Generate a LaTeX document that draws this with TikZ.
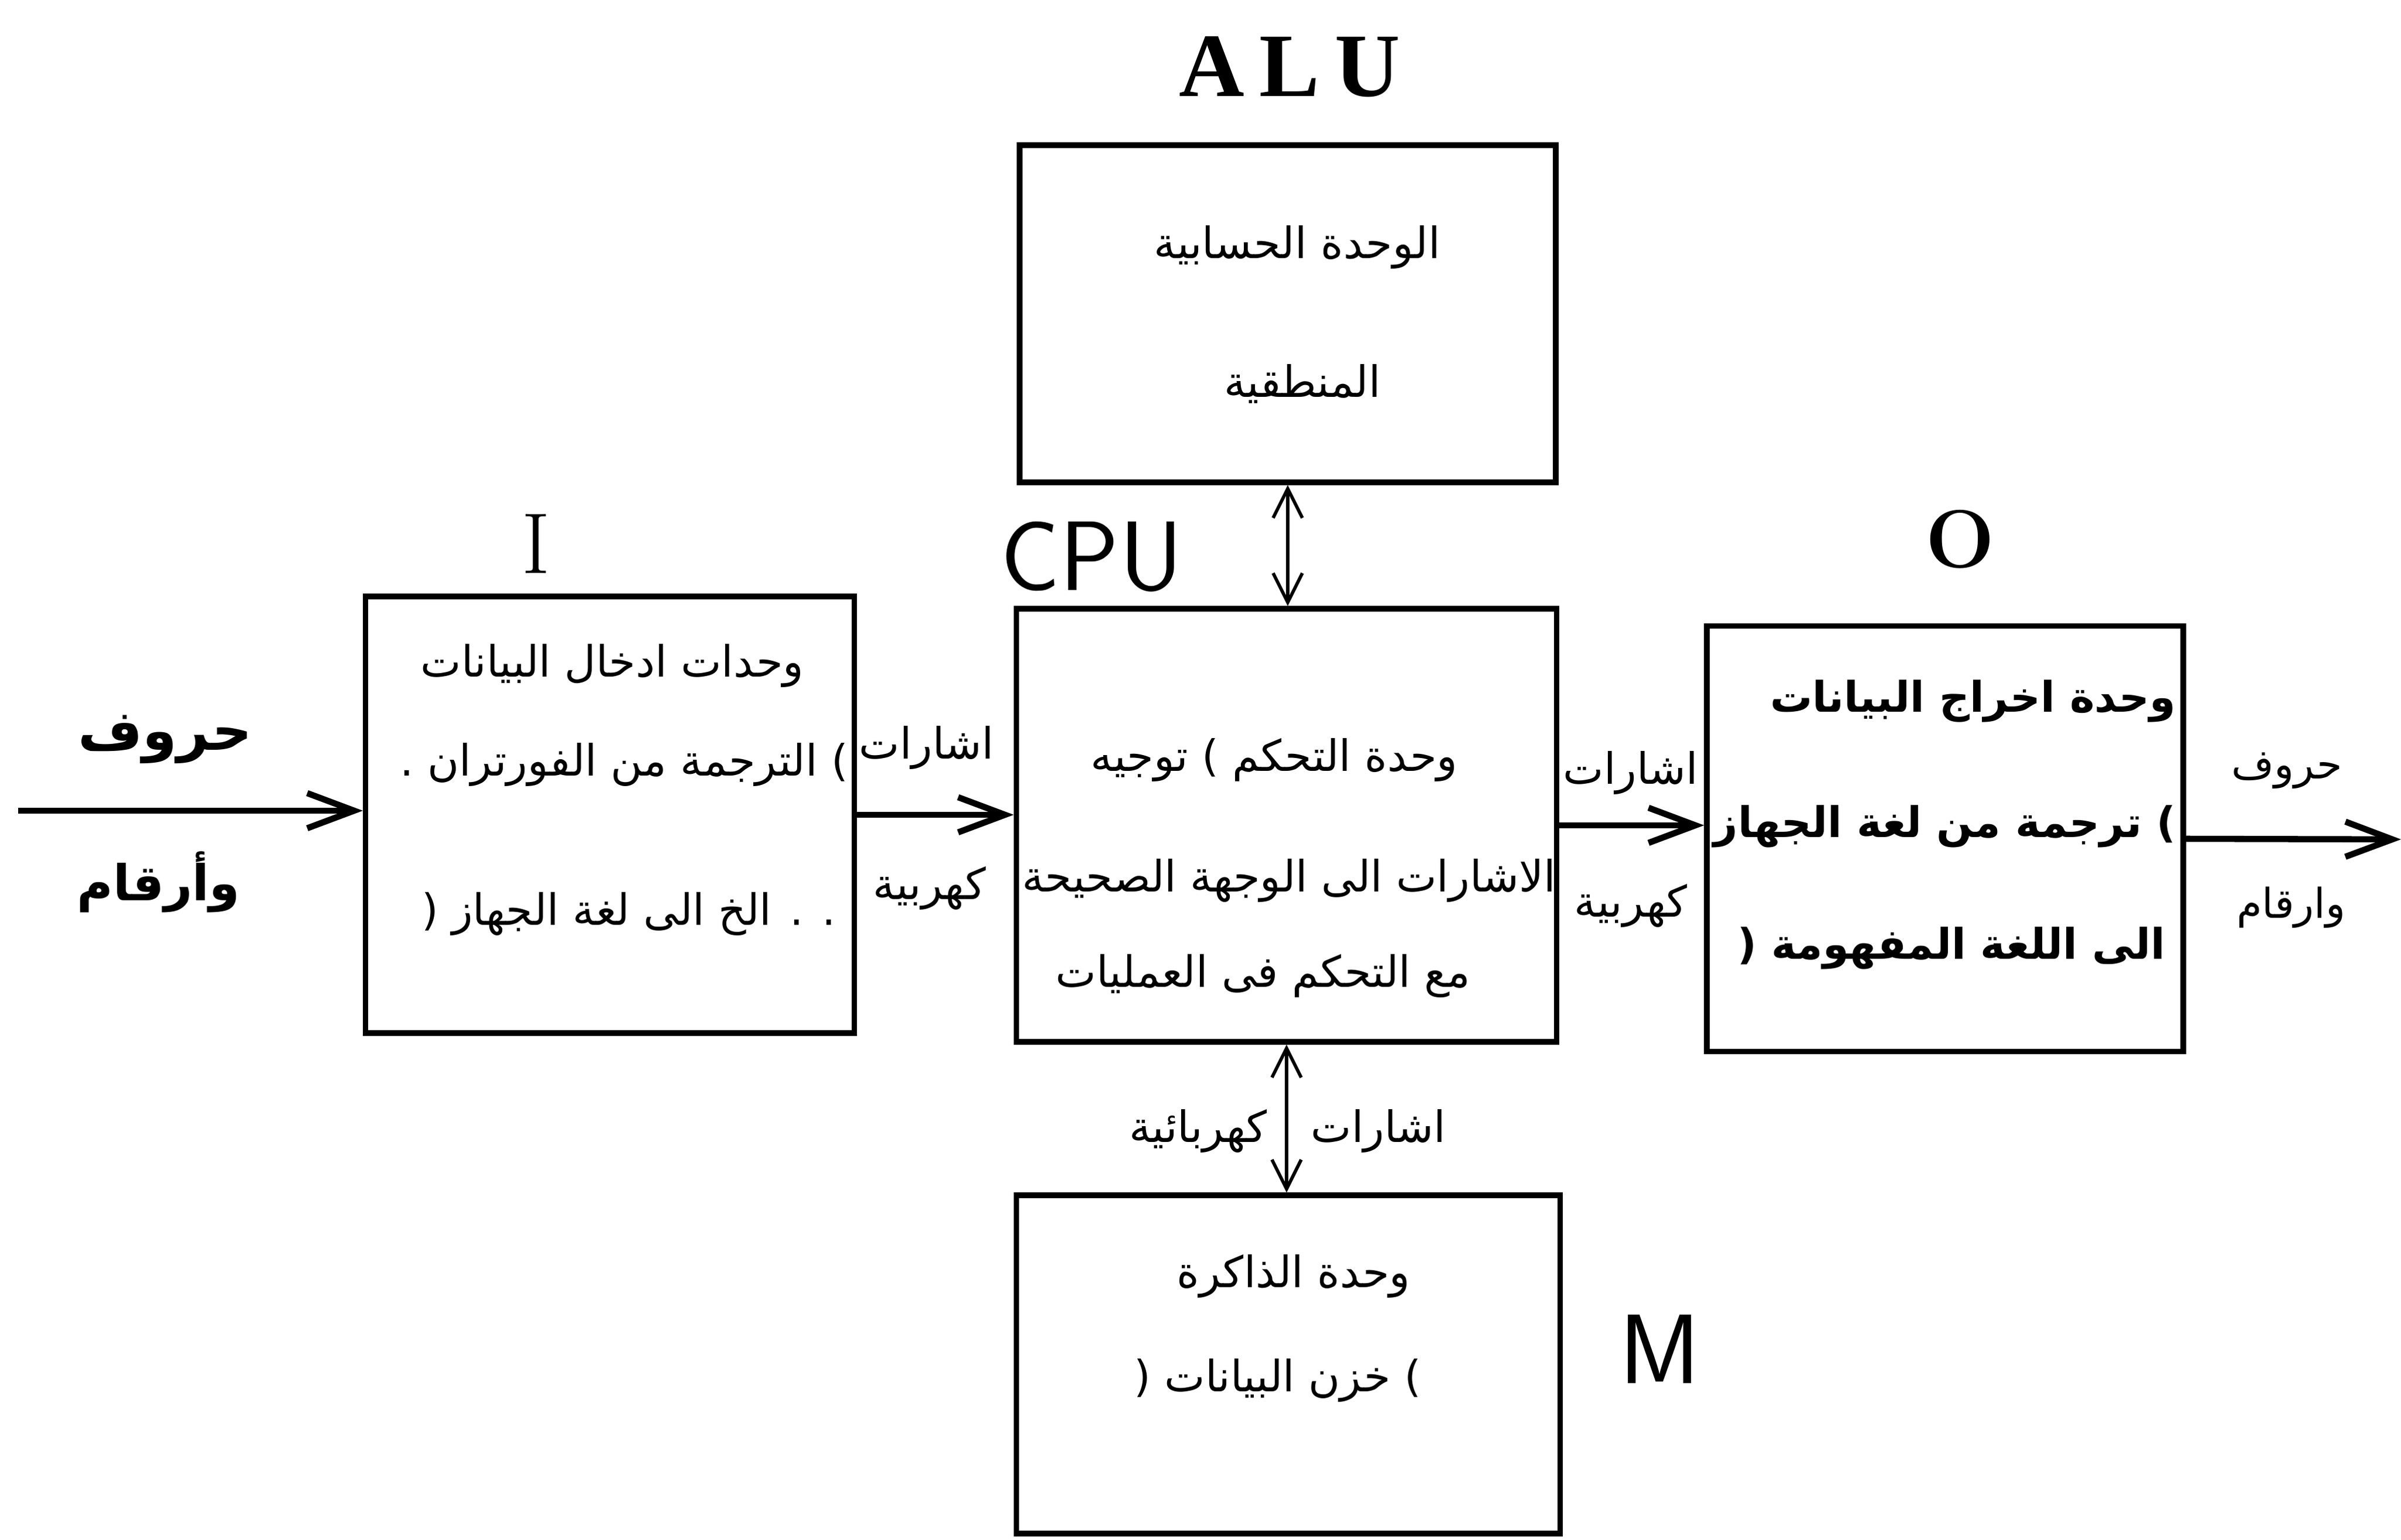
\documentclass[tikz,border=0pt]{standalone}
\usepackage{fontspec}
\newfontfamily\arabicfont[Script=Arabic]{DejaVu Sans}
\newfontfamily\latinserif{Liberation Serif}
\TeXXeTstate=1
\usetikzlibrary{arrows.meta,positioning}
\newcommand{\ar}[1]{{\arabicfont\beginR #1\endR}}

\begin{document}
\begin{tikzpicture}[
    unit/.style={draw,line width=2.6pt,inner sep=0pt},
    txt/.style={inner sep=0pt,font=\fontsize{21}{25}\selectfont},
    bigtxt/.style={inner sep=0pt,font=\bfseries\fontsize{20.5}{25}\selectfont},
    sig/.style={line width=3pt,-{Straight Barb[length=8mm,width=6mm]}},
    bus/.style={line width=1.6pt,{Straight Barb[length=5mm,width=5mm]}-{Straight Barb[length=5mm,width=5mm]}}
    ]
    \path[fill=white,use as bounding box] (0,0) rectangle (41.02,-26.31);

    %units
    \node[unit,minimum width=9.16cm,minimum height=5.76cm] (alu) at (22.00,-5.36) {};
    \node[unit,minimum width=8.35cm,minimum height=7.46cm] (inp) at (10.42,-13.92) {};
    \node[unit,minimum width=9.23cm,minimum height=7.40cm] (cpu) at (21.98,-14.10) {};
    \node[unit,minimum width=8.14cm,minimum height=7.27cm] (out) at (33.23,-14.33) {};
    \node[unit,minimum width=9.29cm,minimum height=5.78cm] (mem) at (22.01,-23.31) {};

    %names
    \node[font=\latinserif\bfseries\fontsize{44}{44}\selectfont] (alulabel) at (22.03,-1.14) {A\,L\,U};
    \node[font=\sffamily\fontsize{48}{48}\selectfont] (cpulabel) at (18.65,-9.51) {CPU};
    \node[font=\fontsize{42}{42}\selectfont] (inplabel) at (9.16,-9.29) {I};
    \node[font=\bfseries\fontsize{40}{40}\selectfont] (outlabel) at (33.49,-9.21) {O};
    \node[font=\sffamily\fontsize{48}{48}\selectfont] (memlabel) at (28.36,-23.05) {M};

    %texts in the units
    \node[txt] (alu1) at (22.16,-4.22) {\ar{الوحدة الحسابية}};
    \node[txt] (alu2) at (22.25,-6.56) {\ar{المنطقية}};
    \node[txt] (inp1) at (10.46,-11.37) {\ar{وحدات ادخال البيانات}};
    \node[txt] (inp2) at (10.66,-13.06) {\ar{) الترجمة من الفورتران .}};
    \node[txt] (inp3) at (10.74,-15.61) {\ar{. . الخ الى لغة الجهاز (}};
    \node[txt] (cpu1) at (21.77,-12.98) {\ar{وحدة التحكم ) توجيه}};
    \node[txt] (cpu2) at (22.02,-15.04) {\ar{الاشارات الى الوجهة الصحيحة}};
    \node[txt] (cpu3) at (21.58,-16.67) {\ar{مع التحكم فى العمليات}};
    \node[bigtxt,anchor=east] (out1) at (37.18,-11.98) {\ar{وحدة اخراج البيانات}};
    \node[bigtxt,anchor=east] (out2) at (37.18,-14.12) {\ar{) ترجمة من لغة الجهاز}};
    \node[bigtxt,anchor=east] (out3) at (37.00,-16.20) {\ar{الى اللغة المفهومة (}};
    \node[txt] (mem1) at (22.10,-21.80) {\ar{وحدة الذاكرة}};
    \node[txt] (mem2) at (21.83,-23.58) {\ar{) خزن البيانات (}};

    %texts on the connectors
    \node[bigtxt,font=\bfseries\fontsize{27}{32}\selectfont] (chars1) at (2.82,-12.63) {\ar{حروف}};
    \node[bigtxt,font=\bfseries\fontsize{24}{29}\selectfont] (digits1) at (2.71,-15.07) {\ar{وأرقام}};
    \node[txt] (sig1a) at (15.83,-12.77) {\ar{اشارات}};
    \node[txt] (sig1b) at (15.88,-15.17) {\ar{كهربية}};
    \node[txt] (sig2a) at (27.86,-13.20) {\ar{اشارات}};
    \node[txt] (sig2b) at (27.86,-15.47) {\ar{كهربية}};
    \node[txt,font=\fontsize{20}{24}\selectfont] (chars2) at (39.07,-13.17) {\ar{حروف}};
    \node[txt,font=\fontsize{20}{24}\selectfont] (digits2) at (39.14,-15.50) {\ar{وارقام}};
    \node[txt] (sig3a) at (23.55,-19.32) {\ar{اشارات}};
    \node[txt] (sig3b) at (20.47,-19.32) {\ar{كهربائية}};

    %connectors
    \coordinate (src) at (0.31,-13.85);
    \coordinate (snk) at (41.02,-14.34);
    \draw[sig] (src) -- (src -| inp.west);
    \draw[sig] (inp.east) -- (inp.east -| cpu.west);
    \draw[sig] (cpu.east) -- (cpu.east -| out.west);
    \draw[sig] (out.east) -- (snk);
    \draw[bus] (alu.south) -- (alu.south |- cpu.north);
    \draw[bus] (cpu.south) -- (cpu.south |- mem.north);
\end{tikzpicture}
\end{document}
